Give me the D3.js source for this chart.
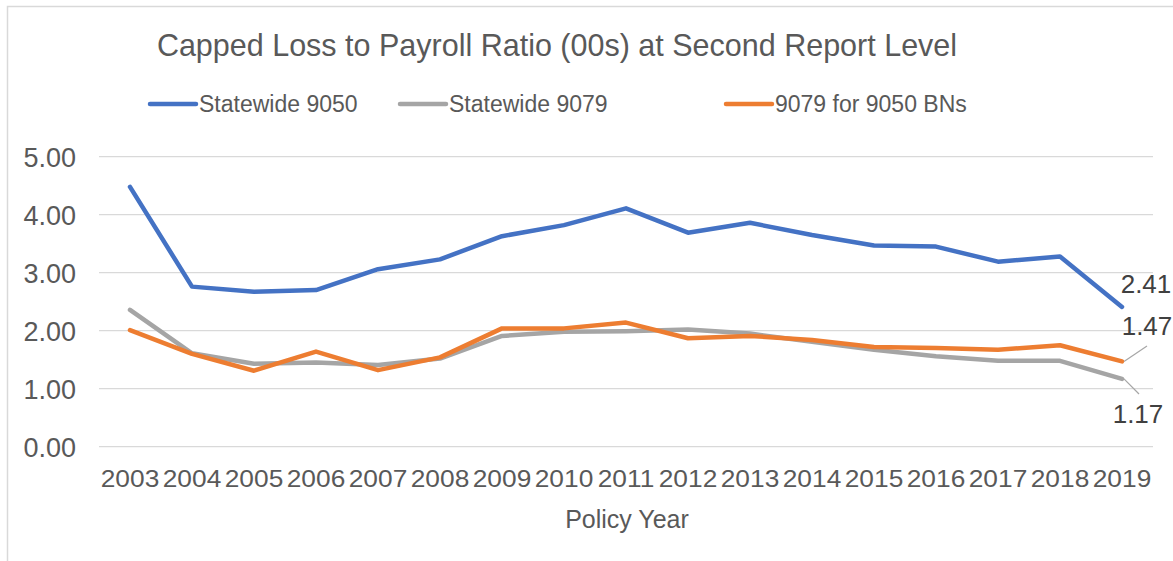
<!DOCTYPE html>
<html>
<head>
<meta charset="utf-8">
<script src="https://cdn.jsdelivr.net/npm/d3@7"></script>
<style>
  body { margin: 0; background: #fff; }
  svg { display: block; font-family: "Liberation Sans", Arial, sans-serif; }
</style>
</head>
<body>
<svg id="chart" width="1173" height="561"></svg>
<script>
// data
var years = ["2003","2004","2005","2006","2007","2008","2009","2010","2011","2012","2013","2014","2015","2016","2017","2018","2019"];
var statewide9050 = [4.48, 2.76, 2.67, 2.70, 3.06, 3.23, 3.63, 3.82, 4.11, 3.69, 3.86, 3.65, 3.47, 3.45, 3.19, 3.28, 2.41];
var statewide9079 = [2.36, 1.61, 1.43, 1.45, 1.41, 1.52, 1.91, 1.98, 1.99, 2.02, 1.95, 1.81, 1.67, 1.56, 1.48, 1.48, 1.17];
var bn9079 = [2.01, 1.60, 1.31, 1.64, 1.32, 1.54, 2.04, 2.04, 2.14, 1.87, 1.91, 1.84, 1.72, 1.70, 1.67, 1.75, 1.47];
var yTicks = [0, 1, 2, 3, 4, 5];

var series = [
  {name: "Statewide 9050", values: statewide9050, color: "#4472C4"},
  {name: "Statewide 9079", values: statewide9079, color: "#A5A5A5"},
  {name: "9079 for 9050 BNs", values: bn9079, color: "#ED7D31"}
];

var svg = d3.select("#chart");
var textColor = "#595959";

// chart border (right/bottom edges fall outside the frame)
svg.append("rect")
  .attr("x", 7.5).attr("y", 6.5)
  .attr("width", 1200).attr("height", 600)
  .attr("fill", "none")
  .attr("stroke", "#D9D9D9")
  .attr("stroke-width", 1.5);

var x = d3.scaleBand().domain(years).range([99, 1153]);
var y = d3.scaleLinear().domain([0, 5]).range([446.7, 156.7]);

// gridlines
svg.append("g")
  .selectAll("line")
  .data(yTicks)
  .enter().append("line")
    .attr("x1", 99).attr("x2", 1153)
    .attr("y1", d => y(d)).attr("y2", d => y(d))
    .attr("stroke", "#D9D9D9")
    .attr("stroke-width", 1.3);

// y axis labels
var yAxis = svg.append("g")
  .attr("transform", "translate(76,1)")
  .call(d3.axisLeft(y).tickValues(yTicks).tickSize(0).tickPadding(0).tickFormat(d3.format(".2f")));
yAxis.select(".domain").remove();
yAxis.selectAll("text")
  .attr("fill", textColor)
  .style("font-size", "27px")
  .style("font-family", "'Liberation Sans', Arial, sans-serif");

// x axis labels (slightly wide, like the reference)
var xAxis = svg.append("g")
  .attr("transform", "translate(0,470)")
  .call(d3.axisBottom(x).tickSize(0).tickPadding(0));
xAxis.select(".domain").remove();
xAxis.selectAll("text")
  .attr("fill", textColor)
  .attr("transform", "scale(1.12,1)")
  .style("font-size", "23.5px")
  .style("font-family", "'Liberation Sans', Arial, sans-serif");

// axis title
svg.append("text")
  .attr("x", 627).attr("y", 528)
  .attr("text-anchor", "middle")
  .attr("fill", textColor)
  .style("font-size", "25px")
  .text("Policy Year");

// chart title
svg.append("text")
  .attr("x", 557).attr("y", 55.5)
  .attr("text-anchor", "middle")
  .attr("fill", textColor)
  .style("font-size", "30.5px")
  .text("Capped Loss to Payroll Ratio (00s) at Second Report Level");

// lines
var line = d3.line()
  .x((d, i) => x(years[i]) + x.bandwidth() / 2)
  .y(d => y(d));

svg.append("g")
  .selectAll("path")
  .data(series)
  .enter().append("path")
    .attr("d", d => line(d.values))
    .attr("fill", "none")
    .attr("stroke", d => d.color)
    .attr("stroke-width", 4.5)
    .attr("stroke-linejoin", "round")
    .attr("stroke-linecap", "round");

// legend
var legendX = [150, 400, 726];
var legend = svg.append("g")
  .selectAll("g")
  .data(series)
  .enter().append("g")
    .attr("transform", (d, i) => "translate(" + legendX[i] + ",104)");
legend.append("line")
  .attr("x1", 0).attr("x2", 46)
  .attr("stroke", d => d.color)
  .attr("stroke-width", 4.5)
  .attr("stroke-linecap", "round");
legend.append("text")
  .attr("x", 49).attr("y", 7.5)
  .attr("fill", textColor)
  .style("font-size", "23px")
  .text(d => d.name);

// end labels with leader lines
var last = years.length - 1;
var xEnd = x(years[last]) + x.bandwidth() / 2;
var endLabels = [
  {value: statewide9050[last], lx: 1146, ly: 293, leader: null},
  {value: bn9079[last], lx: 1147, ly: 335, leader: [1147, 346]},
  {value: statewide9079[last], lx: 1138, ly: 422.5, leader: [1139, 394]}
];
endLabels.forEach(function(l) {
  if (l.leader) {
    svg.append("line")
      .attr("x1", xEnd + 2).attr("y1", y(l.value))
      .attr("x2", l.leader[0]).attr("y2", l.leader[1])
      .attr("stroke", "#A6A6A6")
      .attr("stroke-width", 1.2);
  }
  svg.append("text")
    .attr("x", l.lx).attr("y", l.ly)
    .attr("text-anchor", "middle")
    .attr("fill", "#404040")
    .style("font-size", "26px")
    .text(d3.format(".2f")(l.value));
});
</script>
</body>
</html>
